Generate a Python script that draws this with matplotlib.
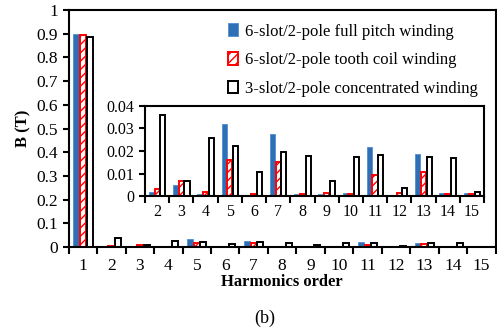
import matplotlib
matplotlib.use('Agg')
import matplotlib.pyplot as plt
import numpy as np

plt.rcParams['font.family'] = ['Liberation Serif', 'DejaVu Serif']
plt.rcParams['hatch.linewidth'] = 1.0

# harmonic order and flux density amplitude (T) for each winding
orders = np.arange(1, 16)
full_pitch = [0.898, 0.0019, 0.0049, 0.0009, 0.0319, 0.0002, 0.0274, 0.0010,
              0.0010, 0.0012, 0.0216, 0.0003, 0.0185, 0.0012, 0.0012]
tooth_coil = [0.893, 0.0033, 0.0067, 0.0016, 0.0159, 0.0009, 0.0153, 0.0009,
              0.0012, 0.0007, 0.0093, 0.0012, 0.0108, 0.0007, 0.0007]
concentrated = [0.888, 0.0360, 0.0067, 0.0259, 0.0224, 0.0108, 0.0196, 0.0178,
                0.0068, 0.0175, 0.0182, 0.0037, 0.0175, 0.0170, 0.0019]
labels = ['6-slot/2-pole full pitch winding',
          '6-slot/2-pole tooth coil winding',
          '3-slot/2-pole concentrated winding']

blue = '#2e6fb6'
w = 0.21
off = 0.235


def draw_bars(ax, x, a, b, c, lw):
    ax.bar(x - off, a, w, color=blue, edgecolor='#4f8fd0', linewidth=0.6, label=labels[0])
    ax.bar(x, b, w, color='white', edgecolor='red', linewidth=lw, hatch='////', label=labels[1])
    ax.bar(x + off, c, w, color='white', edgecolor='black', linewidth=lw, label=labels[2])


def style_axes(ax, x0, x1, pad):
    ax.set_xlim(x0 - 0.5, x1 + 0.5)
    ax.set_xticks(np.arange(x0, x1 + 1))
    ax.set_xticks(np.arange(x0 - 0.5, x1 + 1), minor=True)
    ax.tick_params(axis='x', which='major', length=0, pad=pad)
    ax.tick_params(axis='x', which='minor', length=5, width=1.5, direction='out')
    ax.tick_params(axis='y', length=4, width=1.5, direction='out')
    for s in ax.spines.values():
        s.set_linewidth(1.5)


fig = plt.figure(figsize=(4.97, 3.35), dpi=100)

ax = fig.add_axes([0.1382, 0.2627, 0.859, 0.7073])
draw_bars(ax, orders, full_pitch, tooth_coil, concentrated, 1.4)
style_axes(ax, 1, 15, 8)
ax.set_ylim(0, 1)
ax.set_yticks(np.arange(0, 1.01, 0.1))
ax.set_yticklabels(['0', '0.1', '0.2', '0.3', '0.4', '0.5', '0.6', '0.7', '0.8', '0.9', '1'])
ax.tick_params(labelsize=12.5)
ax.set_ylabel('B (T)', fontsize=12, fontweight='bold', labelpad=4)
ax.set_xlabel('Harmonics order', fontsize=12, fontweight='bold', labelpad=0)
ax.legend(loc='upper right', frameon=False, fontsize=12, handlelength=0.6,
          handleheight=0.8, handletextpad=0.4, labelspacing=0.75,
          bbox_to_anchor=(0.99, 1.0), borderaxespad=0.4)

# zoomed view of the higher harmonics
ins = fig.add_axes([0.2918, 0.4149, 0.682, 0.2687])
draw_bars(ins, orders[1:], full_pitch[1:], tooth_coil[1:], concentrated[1:], 1.4)
style_axes(ins, 2, 15, 6)
ins.set_ylim(0, 0.04)
ins.set_yticks([0, 0.01, 0.02, 0.03, 0.04])
ins.set_yticklabels(['0', '0.01', '0.02', '0.03', '0.04'])
ins.tick_params(labelsize=11.5)

fig.text(0.533, 0.035, '(b)', fontsize=13, ha='center')

fig.savefig('out.png', dpi=100)
